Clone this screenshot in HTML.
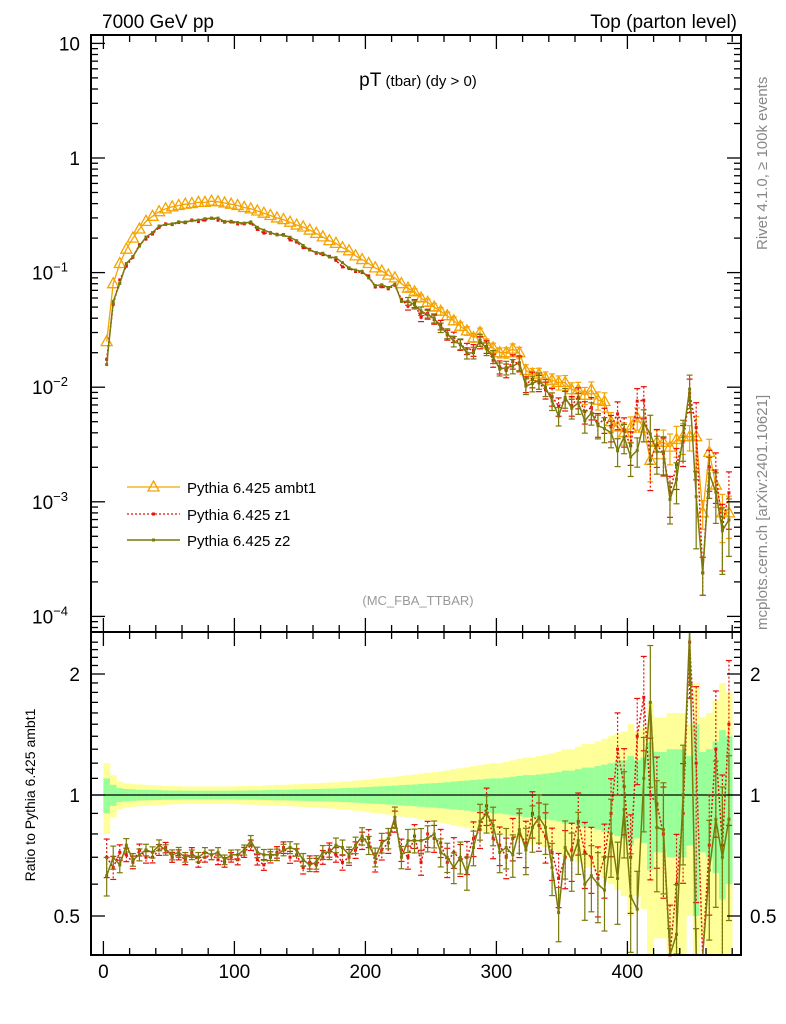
<!DOCTYPE html>
<html><head><meta charset="utf-8"><style>
body{margin:0;background:#fff;}
svg{display:block;font-family:"Liberation Sans",sans-serif;}
</style></head><body>
<svg id="c" width="786" height="1024" viewBox="0 0 786 1024" xmlns="http://www.w3.org/2000/svg">
<rect width="786" height="1024" fill="#fff"/>
<g id="bands"></g><g id="series"></g><g id="axes"></g>
<text x="102" y="28" font-size="19">7000 GeV pp</text>
<text x="737" y="28" font-size="19" text-anchor="end">Top (parton level)</text>
<text x="418" y="86" text-anchor="middle"><tspan font-size="19">pT</tspan><tspan font-size="15"> (tbar) (dy &gt; 0)</tspan></text>
<text x="418" y="605" font-size="13" fill="#999" text-anchor="middle">(MC_FBA_TTBAR)</text>
<text transform="translate(767,250) rotate(-90)" font-size="15" fill="#888">Rivet 4.1.0, ≥ 100k events</text>
<text transform="translate(767,630) rotate(-90)" font-size="15" fill="#888">mcplots.cern.ch [arXiv:2401.10621]</text>
<text transform="translate(35,795) rotate(-90)" font-size="14" text-anchor="middle">Ratio to Pythia 6.425 ambt1</text>
<g>
<g><line x1="127" y1="487" x2="180" y2="487" stroke="#f5a300" stroke-width="1.3"/><path d="M153.5,481 L159,491 L148,491 Z" fill="none" stroke="#f5a300" stroke-width="1.3"/><text x="187" y="493" font-size="15">Pythia 6.425 ambt1</text></g>
<g><line x1="127" y1="514" x2="180" y2="514" stroke="#e8100a" stroke-width="1.3" stroke-dasharray="2,2"/><rect x="152" y="512.5" width="3" height="3" fill="#e8100a"/><text x="187" y="520" font-size="15">Pythia 6.425 z1</text></g>
<g><line x1="127" y1="540" x2="180" y2="540" stroke="#7a7a0a" stroke-width="1.5"/><rect x="152" y="538.5" width="3" height="3" fill="#7a7a0a"/><text x="187" y="546" font-size="15">Pythia 6.425 z2</text></g>
</g>
</svg>
<script>
const ambt1=[0.025,0.08,0.12,0.16,0.2,0.24,0.28,0.31,0.34,0.36,0.375,0.385,0.395,0.40,0.41,0.41,0.42,
0.415,0.405,0.395,0.385,0.37,0.36,0.345,0.33,0.315,0.30,0.29,0.275,0.26,0.25,0.235,0.22,0.205,0.19,0.18,0.165,0.155,0.14,0.13,
0.12,0.11,0.103,0.095,0.09,0.08,0.073,0.068,0.06,0.055,0.05,0.046,0.042,0.038,0.034,0.031,0.027,0.030,0.024,0.022,
0.020,0.020,0.0215,0.02,0.014,0.013,0.013,0.012,0.0115,0.011,0.011,0.0095,0.0095,0.0085,0.0095,0.0077,0.0075,0.005,0.0045,0.004,
0.0044,0.0054,0.0044,0.0023,0.0033,0.0033,0.003,0.0035,0.0037,0.0037,0.0037,0.0008,0.0027,0.0014,0.0008,0.0008];
const ratioZ2=[0.63,0.70,0.67,0.75,0.69,0.71,0.73,0.72,0.75,0.73,0.71,0.72,0.70,0.71,0.70,0.72,0.71,0.72,0.69,0.71,
0.71,0.73,0.77,0.72,0.71,0.71,0.71,0.73,0.74,0.73,0.69,0.67,0.68,0.72,0.72,0.75,0.74,0.71,0.75,0.79,
0.75,0.70,0.76,0.78,0.88,0.70,0.77,0.77,0.77,0.78,0.80,0.72,0.70,0.66,0.70,0.64,0.74,0.86,0.90,0.84,
0.72,0.74,0.71,0.82,0.73,0.83,0.88,0.83,0.66,0.51,0.74,0.69,0.77,0.60,0.63,0.60,0.58,0.80,0.62,0.92,
0.56,0.52,1.10,1.70,0.83,0.82,0.35,0.45,1.00,2.60,0.30,0.30,0.65,0.87,0.70,0.87];
const ratioZ1=[0.70,0.66,0.72,0.71,0.68,0.73,0.70,0.70,0.73,0.74,0.70,0.71,0.69,0.72,0.68,0.70,0.71,0.69,0.68,0.70,
0.69,0.72,0.75,0.69,0.67,0.70,0.72,0.74,0.70,0.71,0.66,0.68,0.67,0.70,0.73,0.71,0.68,0.70,0.73,0.77,
0.78,0.68,0.73,0.76,0.86,0.73,0.70,0.79,0.68,0.80,0.78,0.76,0.68,0.72,0.69,0.70,0.78,0.82,0.94,0.78,
0.75,0.70,0.78,0.80,0.76,0.90,0.84,0.79,0.72,0.62,0.70,0.73,0.86,0.72,0.70,0.62,0.70,0.90,1.30,1.05,
0.70,1.40,1.75,1.00,0.95,0.80,0.40,0.60,0.90,2.40,1.20,0.30,0.75,1.30,0.75,1.50];
const greenErr=[0.10,0.06,0.04,0.035,0.033,0.031,0.03,0.029,0.028,0.027,0.026,0.026,0.025,0.025,0.025,0.025,0.025,0.025,0.025,0.025,
0.026,0.026,0.027,0.027,0.028,0.029,0.03,0.03,0.031,0.032,0.033,0.034,0.035,0.036,0.037,0.038,0.04,0.041,0.043,0.045,
0.047,0.049,0.051,0.053,0.055,0.058,0.06,0.062,0.065,0.068,0.07,0.073,0.076,0.08,0.083,0.086,0.09,0.093,0.097,0.10,
0.10,0.105,0.11,0.115,0.12,0.12,0.125,0.13,0.135,0.14,0.15,0.15,0.16,0.17,0.17,0.18,0.19,0.2,0.21,0.22,
0.25,0.22,0.24,0.35,0.28,0.28,0.30,0.30,0.30,0.25,0.50,0.28,0.30,0.36,0.45,0.40];
const yellowErr=greenErr.map(e=>Math.min(e*2,0.9));
const xTicks=[0,100,200,300,400];
const mainTickExp=[1,0,-1,-2,-3,-4];
const ratioTicks=[2,1,0.5];
const binWidth=5;

const NS="http://www.w3.org/2000/svg";
const L=91,R=741,MT=35,MB=632,RT=632,RB=955;
const X=v=>103.4+v*1.31;
const YM=v=>158-Math.log10(v)*114.6;
const YR=r=>795-Math.log2(r)*121;
const clampR=y=>Math.max(RT,Math.min(RB,y));
const clampM=y=>Math.max(MT,Math.min(MB,y));
function el(t,a,p){const e=document.createElementNS(NS,t);for(const k in a)e.setAttribute(k,a[k]);p.appendChild(e);return e;}
const bands=document.getElementById('bands'),ser=document.getElementById('series'),ax=document.getElementById('axes');
const n=ambt1.length;
const xc=i=>binWidth*(i+0.5);
for(let i=0;i<n;i++){
  const x0=X(xc(i)-binWidth/2),w=X(xc(i)+binWidth/2)-x0;
  const yy1=clampR(YR(1+yellowErr[i])),yy2=clampR(YR(Math.max(1-yellowErr[i],0.05)));
  const r1=el('rect',{x:x0,y:yy1,width:w+0.3,height:yy2-yy1,fill:'#ffff99'},bands);
  
  
  const g1=clampR(YR(1+greenErr[i])),g2=clampR(YR(Math.max(1-greenErr[i],0.05)));
  const r2=el('rect',{x:x0,y:g1,width:w+0.3,height:g2-g1,fill:'#99ff99'},bands);
  
  
}
const one=el('line',{x1:L,x2:R,y1:YR(1),y2:YR(1),stroke:'#000','stroke-width':1.3},bands);


function drawMain(vals,color,dash,marker,name,errScale){
  const g=el('g',{},ser);
  
  
  let d='';
  vals.forEach((v,i)=>{d+=(i?'L':'M')+X(xc(i)).toFixed(1)+','+clampM(YM(v)).toFixed(1);});
  el('path',{d:d,fill:'none',stroke:color,'stroke-width':marker==='tri'?1.3:1.5,'stroke-dasharray':dash||'none'},g);
  vals.forEach((v,i)=>{
    const x=X(xc(i)),y=YM(v),e=greenErr[i]*errScale;
    if(i>45){const y1=clampM(YM(v*(1+e))),y2=clampM(YM(Math.max(v*(1-e),1e-6)));
      el('line',{x1:x,x2:x,y1:y1,y2:y2,stroke:color,'stroke-width':1.2,'stroke-dasharray':dash||'none'},g);
      el('line',{x1:x-3,x2:x+3,y1:y1,y2:y1,stroke:color,'stroke-width':1.2},g);
      el('line',{x1:x-3,x2:x+3,y1:y2,y2:y2,stroke:color,'stroke-width':1.2},g);}
    if(marker==='tri'){el('path',{d:`M${x},${y-6}L${x+5.5},${y+4}L${x-5.5},${y+4}Z`,fill:'none',stroke:color,'stroke-width':1.3},g);}
    else el('rect',{x:x-1.5,y:y-1.5,width:3,height:3,fill:color},g);
  });
}
drawMain(ambt1,'#f5a300',null,'tri','series-ambt1',1.0);
drawMain(ambt1.map((v,i)=>v*ratioZ1[i]),'#e8100a','2,2','sq','series-z1',1.3);
drawMain(ambt1.map((v,i)=>v*ratioZ2[i]),'#7a7a0a',null,'sq','series-z2',1.3);
function drawRatio(vals,color,dash,name){
  const g=el('g',{},ser);
  
  
  let d='';
  vals.forEach((v,i)=>{d+=(i?'L':'M')+X(xc(i)).toFixed(1)+','+clampR(YR(v)).toFixed(1);});
  el('path',{d:d,fill:'none',stroke:color,'stroke-width':1.5,'stroke-dasharray':dash||'none'},g);
  vals.forEach((v,i)=>{
    const x=X(xc(i)),e=greenErr[i]*1.1;
    const y1=clampR(YR(v*(1+e))),y2=clampR(YR(v*(1-e)));
    el('line',{x1:x,x2:x,y1:y1,y2:y2,stroke:color,'stroke-width':1.2,'stroke-dasharray':dash||'none'},g);
    el('line',{x1:x-3,x2:x+3,y1:y1,y2:y1,stroke:color,'stroke-width':1.2},g);
    el('line',{x1:x-3,x2:x+3,y1:y2,y2:y2,stroke:color,'stroke-width':1.2},g);
    const y=YR(v);if(y>RT&&y<RB)el('rect',{x:x-1.5,y:y-1.5,width:3,height:3,fill:color},g);
  });
}
drawRatio(ratioZ1,'#e8100a','2,2','ratio-z1');
drawRatio(ratioZ2,'#7a7a0a',null,'ratio-z2');
[[MT,MB,'main-frame'],[RT,RB,'ratio-frame']].forEach(([t,b,nm])=>{
  const r=el('rect',{x:L,y:t,width:R-L,height:b-t,fill:'none',stroke:'#000','stroke-width':2},ax);
  
  
});
for(let v=0;v<=480;v+=20){
  const x=X(v);const big=v%100===0,len=big?14:7;
  [[MT,1],[MB,-1],[RT,1],[RB,-1]].forEach(([y,s])=>el('line',{x1:x,x2:x,y1:y,y2:y+s*len,stroke:'#000','stroke-width':1.3},ax));
}
xTicks.forEach(v=>{
  const t=el('text',{x:X(v),y:978,'font-size':19,'text-anchor':'middle'},ax);
  t.textContent=v;
  
  
});
for(let e=-5;e<=1;e++){
  for(let m=1;m<10;m++){
    const v=m*Math.pow(10,e),y=YM(v);if(y<MT||y>MB)continue;
    const len=m===1?14:7;
    el('line',{x1:L,x2:L+len,y1:y,y2:y,stroke:'#000','stroke-width':1.3},ax);
    el('line',{x1:R,x2:R-len,y1:y,y2:y,stroke:'#000','stroke-width':1.3},ax);
  }
}
mainTickExp.forEach(e=>{
  const y=YM(Math.pow(10,e));
  const t=el('text',{x:80,y:y+7,'font-size':19,'text-anchor':'end'},ax);
  
  
  if(e===1)t.textContent='10';else if(e===0)t.textContent='1';
  else{t.setAttribute('x',68);t.textContent='10';const s=el('tspan',{'font-size':13,dy:-8},t);s.textContent=String(e).replace('-','−');}
});
for(let v=0.4;v<=2.5;v+=0.1){
  const y=YR(v);if(y<RT||y>RB)continue;
  const big=Math.abs(v-1)<1e-6||Math.abs(v-2)<1e-6||Math.abs(v-0.5)<1e-6;const len=big?14:7;
  el('line',{x1:L,x2:L+len,y1:y,y2:y,stroke:'#000','stroke-width':1.3},ax);
  el('line',{x1:R,x2:R-len,y1:y,y2:y,stroke:'#000','stroke-width':1.3},ax);
}
ratioTicks.forEach(v=>{
  const y=YR(v)+7;
  const a=el('text',{x:80,y:y,'font-size':19,'text-anchor':'end'},ax);a.textContent=v;
  
  
  const b=el('text',{x:750,y:y,'font-size':19},ax);b.textContent=v;
  
  
});
</script>
</body></html>
